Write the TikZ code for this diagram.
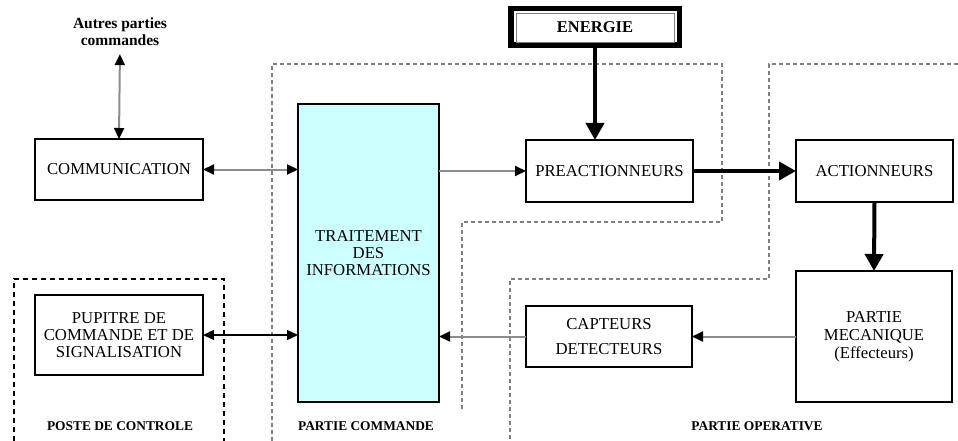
\documentclass[tikz,border=0pt]{standalone}
\usepackage{fontspec}
\setmainfont{Liberation Serif}
\usetikzlibrary{arrows.meta}
\definecolor{cyanclair}{HTML}{CCFFFF}

\begin{document}
\begin{tikzpicture}[x=1pt, y=-1pt,
        >={Triangle[length=11pt, width=10pt, color=black]},
        bloc/.style={draw, line width=1.4pt, inner sep=0pt, outer sep=0pt, align=center, font=\fontsize{16.7}{17}\selectfont},
        titre/.style={inner sep=0pt, font=\bfseries\fontsize{13.4}{15}\selectfont},
        lien/.style={draw=gray!90, line width=2pt},
        puissance/.style={line width=4pt, -{Triangle[length=17pt, width=18pt]}},
        cadre/.style={gray, line width=1.2pt, dash pattern=on 4pt off 3pt}]
            \useasboundingbox (0,0) rectangle (958,441);

            \draw [cadre] (272,441) -- (272,64) -- (722,64) -- (722,222) -- (462,222) -- (462,412);
            \draw [cadre] (958,64) -- (769,64) -- (769,279) -- (510,279) -- (510,441);
            \draw [cadre, black, dash pattern=on 5pt off 4pt] (14,441) -- (14,279) -- (224,279) -- (224,441);

            \node [align=center, inner sep=0pt, font=\bfseries\fontsize{15.5}{17}\selectfont] (autres) at (120,32) {Autres parties\\commandes};
            \node [draw, line width=5.5pt, outer sep=0pt, minimum width=168.5pt, minimum height=36.5pt, font=\bfseries\fontsize{16.5}{17}\selectfont] (energie) at (595,27) {ENERGIE};
            \draw [gray, line width=0.8pt] ([shift={(6,4.5)}]energie.north west) rectangle ([shift={(-5,-3)}]energie.south east);

            \node [bloc, minimum width=168pt, minimum height=61pt] (communication) at (119,169.5) {COMMUNICATION};
            \node [bloc, minimum width=168pt, minimum height=80pt] (pupitre) at (119,335) {PUPITRE DE\\COMMANDE ET DE\\SIGNALISATION};
            \node [bloc, fill=cyanclair, minimum width=141pt, minimum height=298pt] (traitement) at (368.5,253) {TRAITEMENT\\DES\\INFORMATIONS};
            \node [bloc, minimum width=167pt, minimum height=62pt] (preact) at (609.5,171) {PREACTIONNEURS};
            \node [bloc, minimum width=157pt, minimum height=62pt] (act) at (874.5,171) {ACTIONNEURS};
            \node [bloc, minimum width=166pt, minimum height=61pt] (capteurs) at (609,336.5) {CAPTEURS\\[8pt]DETECTEURS};
            \node [bloc, minimum width=156pt, minimum height=131pt, font=\fontsize{16.7}{18}\selectfont] (mecanique) at (874,336.5) {PARTIE\\MECANIQUE\\(Effecteurs)};

            \node [titre] (poste) at (120,426) {POSTE DE CONTROLE};
            \node [titre] (commande) at (366,426) {PARTIE COMMANDE};
            \node [titre] (operative) at (757,426) {PARTIE OPERATIVE};

            \draw [lien, <->, shorten <=8pt] (autres.south) -- (communication.north);
            \draw [lien, <->] (communication.east) -- (communication.east -| traitement.west);
            \draw [line width=1.3pt, <->] (pupitre.east) -- (pupitre.east -| traitement.west);
            \draw [lien, ->] (traitement.east |- preact.west) -- (preact.west);
            \draw [lien, ->] (mecanique.west) -- (capteurs.east);
            \draw [lien, ->] (capteurs.west) -- (capteurs.west -| traitement.east);

            \draw [puissance] (energie.south) -- (energie.south |- preact.north);
            \draw [puissance] (preact.east) -- (act.west);
            \draw [puissance] (act.south) -- (mecanique.north);

        \end{tikzpicture}
\end{document}
